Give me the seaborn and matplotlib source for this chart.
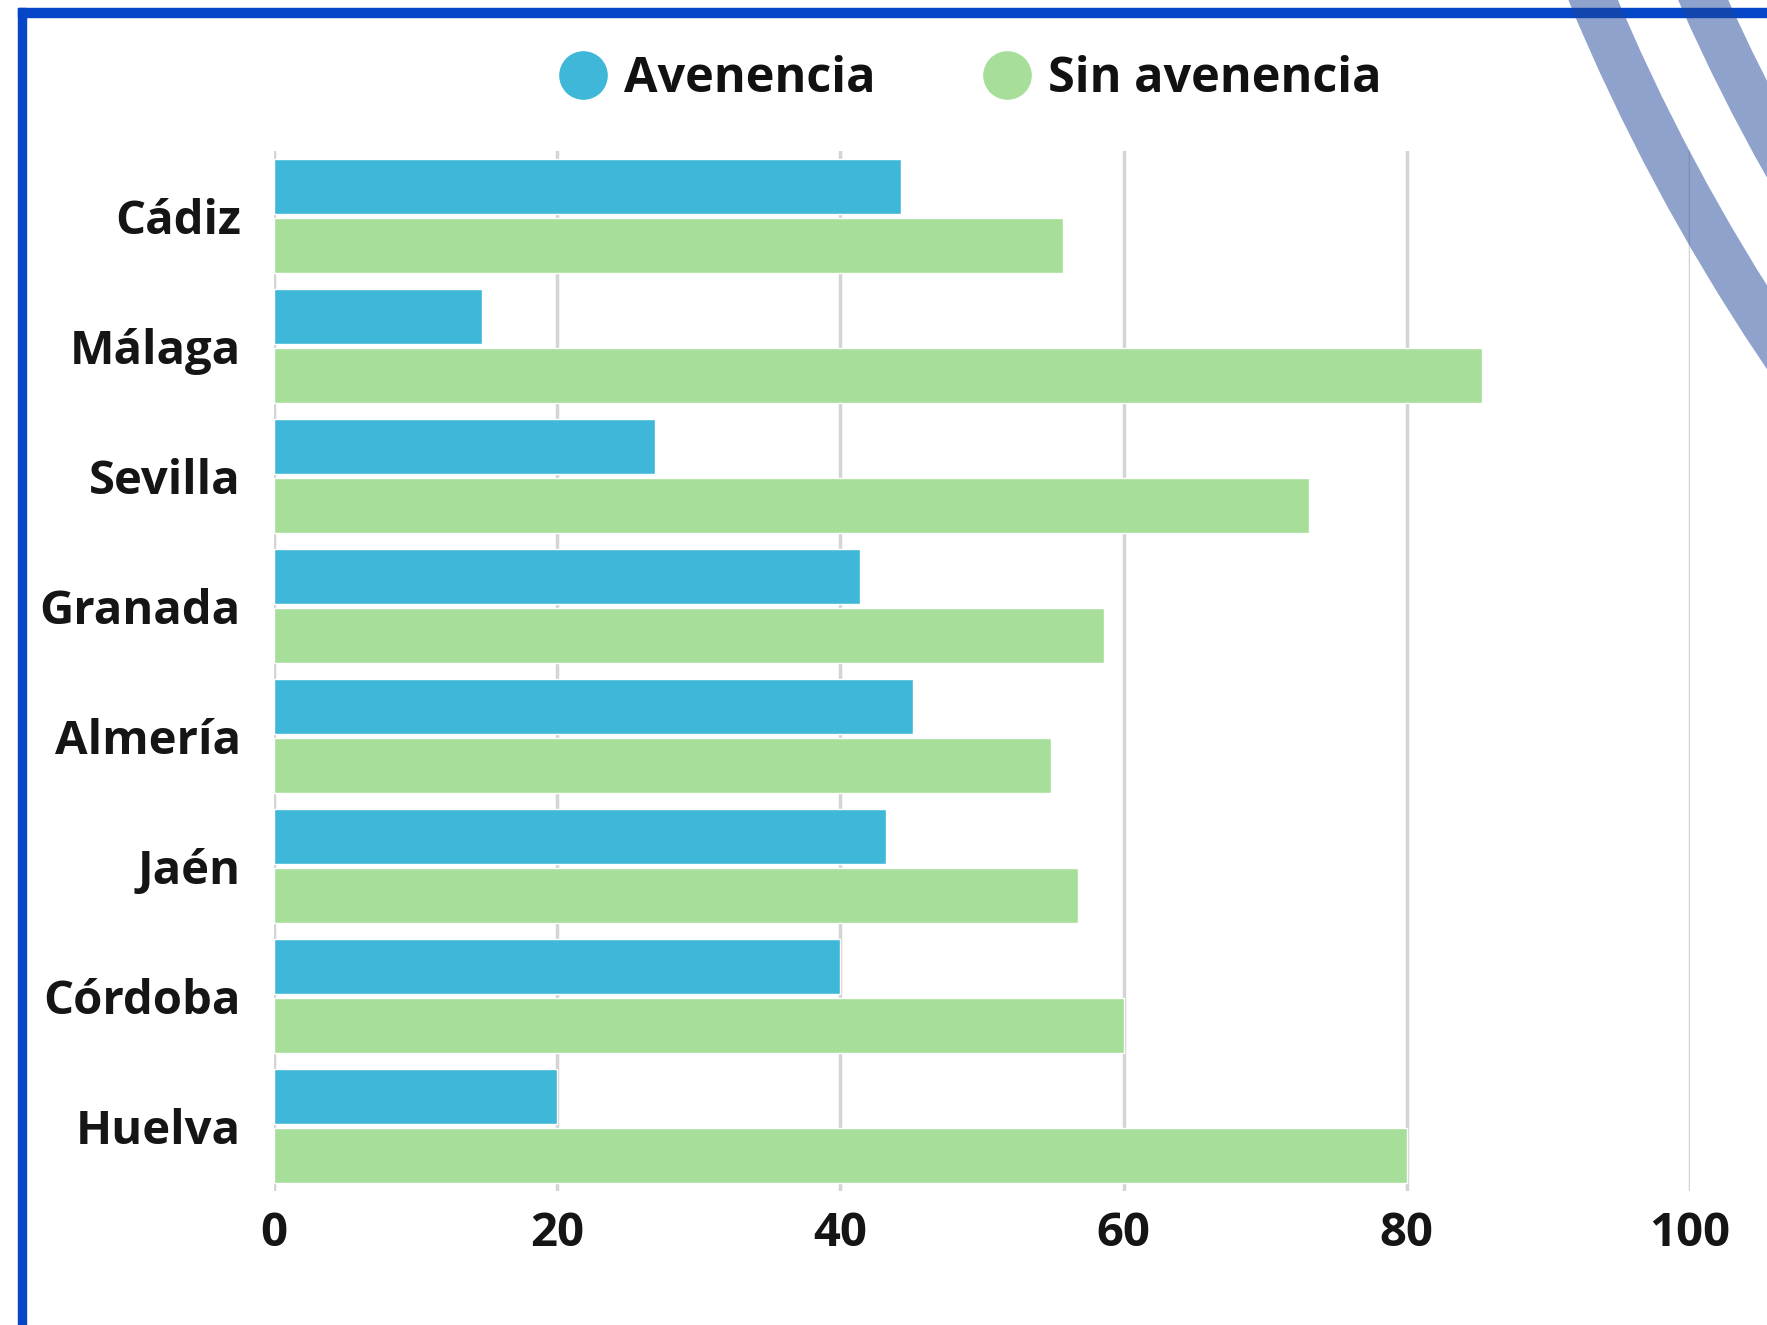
import pandas as pd
import numpy as np
import seaborn as sns
import matplotlib.pyplot as plt
from matplotlib.lines import Line2D
from matplotlib.patches import Rectangle, Ellipse

provincias = ["Cádiz", "Málaga", "Sevilla", "Granada", "Almería", "Jaén", "Córdoba", "Huelva"]
avenencia = [44.3, 14.7, 26.9, 41.4, 45.1, 43.2, 40.0, 20.0]
sin_avenencia = [55.7, 85.3, 73.1, 58.6, 54.9, 56.8, 60.0, 80.0]
series = ["Avenencia", "Sin avenencia"]
colores = ["#3fb7d8", "#a6de9a"]
ticks = [0, 20, 40, 60, 80, 100]

df = pd.DataFrame({
    "provincia": provincias * 2,
    "valor": avenencia + sin_avenencia,
    "tipo": [series[0]] * len(provincias) + [series[1]] * len(provincias),
})

sns.set_style("white")
plt.rcParams["font.family"] = ["Open Sans", "DejaVu Sans"]

W, H = 1767, 1325
fig = plt.figure(figsize=(W / 100, H / 100), dpi=100)
ax = fig.add_axes([274 / W, 1 - 1191 / H, (1690 - 274) / W, (1191 - 151) / H])

sns.barplot(data=df, y="provincia", x="valor", hue="tipo", order=provincias,
            hue_order=series, palette=colores, orient="h", width=0.9, gap=0.06,
            saturation=1, legend=False, ax=ax, zorder=2)

ax.set_xlim(0, 100)
ax.set_ylim(len(provincias) - 0.5, -0.5)
ax.set_xticks(ticks)
ax.set_xticklabels([str(t) for t in ticks])
ax.xaxis.grid(True, color="#d4d4d4", linewidth=2.5, zorder=0)
ax.set_axisbelow(True)
for s in ax.spines.values():
    s.set_visible(False)
ax.set_xlabel("")
ax.set_ylabel("")
ax.tick_params(axis="both", length=0, labelsize=34, colors="#151515")
ax.tick_params(axis="y", pad=24)
ax.tick_params(axis="x", pad=14)
for lab in ax.get_xticklabels() + ax.get_yticklabels():
    lab.set_fontweight("bold")

handles = [Line2D([], [], marker="o", linestyle="", markersize=34, color=c) for c in colores]
fig.legend(handles, series, loc="center", bbox_to_anchor=(0.549, 0.940), ncol=2,
           frameon=False, prop={"size": 35, "weight": "bold"}, labelcolor="#111111",
           handletextpad=0.35, columnspacing=2.2, handlelength=1.0)

# marco azul y arcos decorativos
fig.add_artist(Rectangle((18 / W, 0), 8 / W, 1 - 8 / H, transform=fig.transFigure,
                         color="#0546c6", zorder=5))
fig.add_artist(Rectangle((18 / W, 1 - 17 / H), 1 - 18 / W, 9 / H, transform=fig.transFigure,
                         color="#0546c6", zorder=5))
cx, cy = 3473, H + 787
for r in [2038, 1937]:
    fig.add_artist(Ellipse((cx / W, cy / H), 2 * r / W, 2 * r / H, transform=fig.transFigure,
                           fill=False, edgecolor="#1f4799", alpha=0.5, linewidth=33, zorder=6))

plt.savefig("out.png", dpi=100)
